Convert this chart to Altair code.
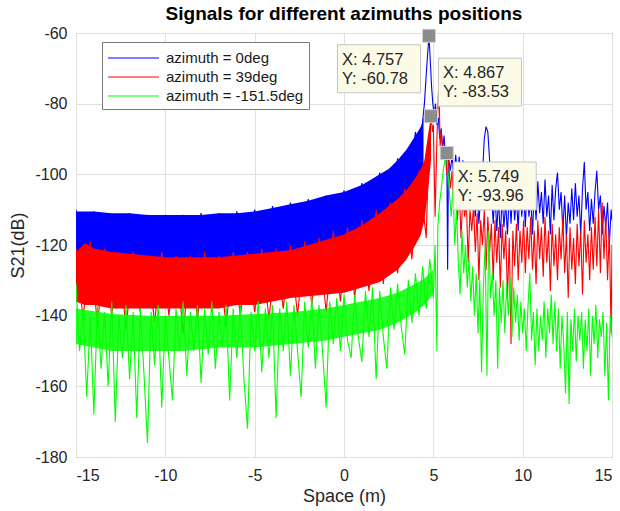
import altair as alt
import pandas as pd

FONT = "Liberation Sans"

series_names = ["azimuth = 0deg", "azimuth = 39deg", "azimuth = -151.5deg"]
series_colors = ["#0000FF", "#FF0000", "#00FF00"]

x_ticks = [-15, -10, -5, 0, 5, 10, 15]
y_ticks = [-180, -160, -140, -120, -100, -80, -60]

# ---------------- azimuth = 0deg (blue) ----------------
blue_band_x = [-15, -14, -13, -12, -11, -10, -9, -8, -7, -6, -5, -4, -3, -2, -1, 0,
               0.5, 1, 1.5, 2, 2.5, 3, 3.5, 4, 4.3, 4.45]
blue_band_hi = [-110.5, -110.5, -111, -111, -111.5, -111.5, -111.5, -111.5, -111, -111,
                -110.5, -109.5, -108.5, -107.5, -106, -105, -104, -103, -101.5, -100,
                -98.5, -96, -93, -89, -86.5, -84]
blue_band_lo = [-124, -124, -125, -125, -125, -125, -125, -125, -124, -124,
                -124, -123, -122, -121, -120, -119, -118, -117, -115.5, -114,
                -112, -110, -108, -105, -102, -100]
# left part sampled every 0.5 m from -15
blue_left_y = [-110, -123, -110.5, -124, -117, -123, -111, -124, -111.5, -125,
               -111.5, -124, -111.5, -125, -111, -124, -111, -124, -110.5, -124,
               -110, -123, -109, -122, -108, -121, -107, -120, -106, -119,
               -104.5, -118, -102.5, -116, -99.5, -113, -95.5, -109, -88]
blue_peak_x = [4.3, 4.4, 4.5, 4.6, 4.68, 4.757, 4.82, 4.9, 4.97, 5.05, 5.12, 5.2, 5.28,
               5.36, 5.44, 5.52, 5.6, 5.68, 5.75, 5.8, 5.85]
blue_peak_y = [-101, -85, -80, -72, -66, -60.78, -67, -75, -80, -83, -80, -86, -84,
               -90, -87, -93, -89, -95, -92, -127, -95]
# right part sampled every 0.1 m from 5.95, last point at 15
blue_tail_y = [-99, -95, -101, -94.5, -100, -95, -103, -96, -105, -98,
               -108, -101, -110, -103, -112, -104, -114, -106, -100, -90,
               -86.5, -88, -96, -104, -114, -105, -116, -107, -118, -106,
               -115, -108, -117, -105, -114, -103, -113, -106, -116, -102,
               -112, -104, -115, -103, -112, -106, -117, -104, -113, -102,
               -111, -105, -114, -101.5, -112, -106, -117, -103, -113, -104,
               -99.5, -110, -105, -116, -106, -118, -108, -114, -104, -113,
               -102.5, -112, -106, -117, -104, -96.5, -110, -105, -116, -107,
               -114, -105, -99, -110, -106, -117, -109, -115, -108, -120,
               -110, -113]

# ---------------- azimuth = 39deg (red) ----------------
red_band_x = [-15, -14.5, -14, -13, -12, -11, -10, -9, -8, -7, -6, -5, -4, -3, -2, -1, 0,
              1, 2, 3, 3.5, 4, 4.3, 4.5, 4.7, 4.87]
red_band_hi = [-122, -119.5, -121, -122, -122.5, -123, -123.5, -123.5, -123.5, -123.5,
               -123, -122.5, -122, -121.5, -120, -118.5, -117, -114.5, -111, -107,
               -104.5, -101, -98.5, -96, -89, -83.53]
red_band_lo = [-136, -137, -137, -138, -138, -138, -138, -138, -138, -138,
               -137, -137, -136, -135, -134.5, -134, -133.5, -132, -130.5, -127,
               -124, -120, -117, -113, -105, -96]
# left part sampled every 0.4 m from -15
red_left_y = [-121, -141, -119, -143, -121, -140, -122, -144, -122, -139,
              -123, -142, -122, -140, -123, -145, -123, -141, -122, -139,
              -123, -143, -122, -140, -122, -139, -121, -141, -121, -138,
              -120, -140, -119, -137, -118, -139, -116, -136, -115, -135,
              -113, -133, -110, -131, -108, -128, -104, -124, -99, -118]
red_peak_x = [4.75, 4.87, 4.95, 5.0, 5.1, 5.2, 5.31, 5.38, 5.45, 5.55, 5.65]
red_peak_y = [-92, -83.53, -88, -86, -112, -90, -73, -92, -88, -95, -92]
# right part sampled every 0.1 m from 5.75, last point at 15
red_tail_y = [-100, -96, -104, -99, -110, -101, -113, -104, -118, -106,
              -112, -108, -125, -110, -116, -109, -122, -111, -130, -113,
              -120, -110, -127, -112, -122, -114, -130, -113, -125, -115,
              -132, -114, -124, -116, -135, -118, -148, -116, -126, -114,
              -130, -116, -125, -113, -128, -115, -124, -112, -127, -116,
              -131, -113, -124, -115, -129, -112, -125, -116, -133, -114,
              -126, -117, -130, -115, -124, -112, -128, -117, -135, -115,
              -127, -118, -131, -114, -126, -116, -134, -113, -125, -117,
              -130, -115, -127, -112, -126, -110, -128, -108, -124, -112,
              -130, -116, -145, -120]

# ---------------- azimuth = -151.5deg (green) ----------------
green_band_x = [-15, -13, -11, -9, -7, -5, -3, -1, 0, 1, 2, 3, 4, 4.5, 5.0]
green_band_hi = [-138, -139.5, -140, -140, -140, -139.5, -139, -138, -137, -136,
                 -135, -133.5, -131, -129.5, -127]
green_band_lo = [-148, -150, -150, -150, -149, -149, -148, -147, -146, -145,
                 -144, -142, -139, -137, -134]
# left part sampled every 0.2 m from -15
green_left_y = [-131, -150, -138, -163, -140, -168, -137, -155, -139, -160,
                -136, -170, -140, -152, -137, -158, -139, -169, -138, -156,
                -176, -139, -154, -137, -166, -140, -152, -164, -138, -150,
                -136, -157, -139, -150, -137, -159, -138, -151, -136, -155,
                -139, -149, -137, -164, -138, -152, -137, -158, -172, -139,
                -150, -136, -156, -138, -152, -137, -169, -138, -150, -136,
                -157, -137, -150, -163, -136, -149, -135, -155, -137, -150,
                -166, -136, -148, -135, -150, -134, -147, -152, -134, -146,
                -153, -133, -146, -132, -158, -133, -146, -155, -132, -144,
                -131, -143, -151, -130, -142, -128, -140, -126, -138, -124,
                -135]
green_peak_x = [5.1, 5.2, 5.25, 5.35, 5.45, 5.55, 5.65, 5.749, 5.8, 5.9]
green_peak_y = [-120, -150, -115, -108, -104, -99, -96, -93.96, -98, -105]
# right part sampled every 0.1 m from 6.0 to 15.0
green_tail_y = [-112, -104, -120, -110, -125, -134, -116, -128, -120, -132,
                -124, -136, -126, -140, -128, -145, -130, -156, -132, -120,
                -157, -116, -135, -128, -140, -130, -155, -132, -142, -130,
                -145, -131, -140, -129, -146, -132, -142, -134, -147, -136,
                -145, -138, -150, -137, -128, -147, -139, -154, -138, -150,
                -140, -147, -136, -152, -138, -145, -134, -148, -136, -150,
                -138, -155, -140, -148, -162, -139, -165, -141, -150, -138,
                -153, -140, -147, -139, -155, -141, -150, -138, -157, -140,
                -148, -137, -152, -141, -146, -139, -157, -142, -164, -140,
                -146]

# ---------------- data tips ----------------
tip_x = [4.757, 4.867, 5.749]
tip_y = [-60.78, -83.53, -93.96]


def grid(start, step, n):
    return [round(start + step * i, 3) for i in range(n)]


def trace_df(name, parts):
    xs, ys = [], []
    for px, py in parts:
        xs += list(px)
        ys += list(py)
    return pd.DataFrame({"x": xs, "y": ys, "series": name})


blue_df = trace_df(series_names[0], [
    (grid(-15, 0.5, len(blue_left_y)), blue_left_y),
    (blue_peak_x, blue_peak_y),
    (grid(5.95, 0.1, len(blue_tail_y) - 1) + [15.0], blue_tail_y),
])
red_df = trace_df(series_names[1], [
    (grid(-15, 0.4, len(red_left_y)), red_left_y),
    (red_peak_x, red_peak_y),
    (grid(5.75, 0.1, len(red_tail_y) - 1) + [15.0], red_tail_y),
])
green_df = trace_df(series_names[2], [
    (grid(-15, 0.2, len(green_left_y)), green_left_y),
    (green_peak_x, green_peak_y),
    (grid(6.0, 0.1, len(green_tail_y)), green_tail_y),
])

blue_band = pd.DataFrame({"x": blue_band_x, "hi": blue_band_hi, "lo": blue_band_lo})
red_band = pd.DataFrame({"x": red_band_x, "hi": red_band_hi, "lo": red_band_lo})
green_band = pd.DataFrame({"x": green_band_x, "hi": green_band_hi, "lo": green_band_lo})

tips = pd.DataFrame({
    "x": tip_x,
    "y": tip_y,
    "label": [f"X: {a}\nY: {b}" for a, b in zip(tip_x, tip_y)],
})

x_scale = alt.Scale(domain=[-15, 15], nice=False, zero=False)
y_scale = alt.Scale(domain=[-180, -60], nice=False, zero=False)
x_axis = alt.Axis(values=x_ticks, title="Space (m)", labelExpr="toString(datum.value)",
                  labelPadding=10)
y_axis = alt.Axis(values=y_ticks, title="S21(dB)", labelExpr="toString(datum.value)")


def X():
    return alt.X("x:Q", scale=x_scale, axis=x_axis)


def Y(field):
    return alt.Y(f"{field}:Q", scale=y_scale, axis=y_axis)


LEGEND_LINE = "M-1,0L4.1,0"
color_enc = alt.Color(
    "series:N",
    scale=alt.Scale(domain=series_names, range=series_colors),
    legend=alt.Legend(
        title=None, orient="none", legendX=26, legendY=9,
        symbolType=LEGEND_LINE, symbolSize=400, symbolStrokeWidth=1.2,
        symbolFillColor="transparent",
        labelFont=FONT, labelFontSize=15, labelColor="#1a1a1a",
        padding=5, fillColor="white", strokeColor="#7a7a7a",
        rowPadding=0, labelOffset=37,
    ),
)


def band_layer(df, color, op):
    return alt.Chart(df).mark_area(color=color, opacity=op, clip=True).encode(
        x=X(), y=Y("lo"), y2="hi:Q")


def trace_layer(df):
    return alt.Chart(df).mark_line(strokeWidth=1.1, clip=True).encode(
        x=X(), y=Y("y"), color=color_enc)


layers = [
    band_layer(blue_band, series_colors[0], 1), trace_layer(blue_df),
    band_layer(red_band, series_colors[1], 1), trace_layer(red_df),
    band_layer(green_band, series_colors[2], 0.85), trace_layer(green_df),
]

markers = alt.Chart(tips).mark_point(
    shape="square", size=170, filled=True, fill="#8C8C8C", stroke="#CFCFCF",
    strokeWidth=1, opacity=1).encode(x=X(), y=Y("y"))
layers.append(markers)

BOX_PATH = "M-1,-0.578L1,-0.578L1,0.578L-1,0.578Z"
box_offsets = [(-50, 33), (49, -34), (48, 33)]
for i, (ox, oy) in enumerate(box_offsets):
    one = tips.iloc[[i]]
    layers.append(alt.Chart(one).mark_point(
        shape=BOX_PATH, size=6889, filled=True, fill="#FBFBE8", stroke="#C4C4C4",
        strokeWidth=1, opacity=1, xOffset=ox, yOffset=oy).encode(x=X(), y=Y("y")))
    layers.append(alt.Chart(one).mark_text(
        align="left", baseline="middle", lineBreak="\n", lineHeight=19,
        font=FONT, fontSize=16.5, color="#262626", dx=ox - 37, dy=oy - 9).encode(
        x=X(), y=Y("y"), text="label:N"))

chart = alt.layer(*layers).properties(
    width=536, height=424,
    title=alt.TitleParams("Signals for different azimuths positions", font=FONT,
                          fontSize=19, fontWeight="bold", color="#000000",
                          offset=1, frame="group", anchor="middle"),
    autosize=alt.AutoSizeParams(type="none"),
    padding={"left": 76, "top": 33, "right": 8, "bottom": 54},
).configure_view(
    stroke="#5a5a5a", strokeWidth=1
).configure_axis(
    labelFont=FONT, labelFontSize=16, labelColor="#262626",
    titleFont=FONT, titleFontSize=18, titleFontWeight="normal", titleColor="#262626",
    grid=True, gridColor="#e0e0e0", gridWidth=1, domain=False, ticks=False,
    labelPadding=9,
).configure_axisY(titlePadding=7).configure_axisX(titlePadding=4)

chart.save("out.html", embed_options={"renderer": "svg", "actions": False})
